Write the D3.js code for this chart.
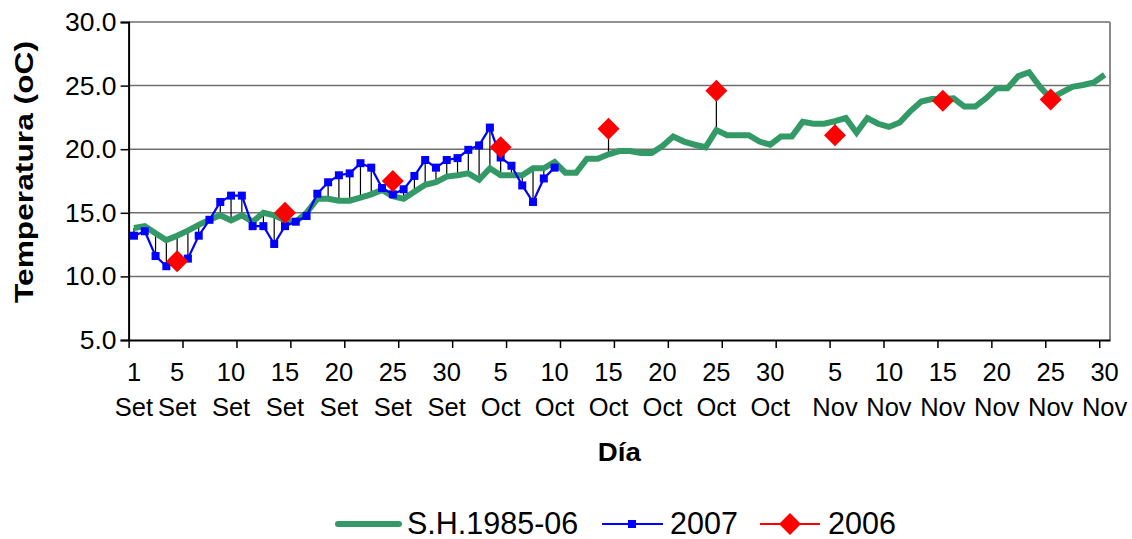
<!DOCTYPE html>
<html><head><meta charset="utf-8">
<script src="https://cdn.jsdelivr.net/npm/d3@7"></script>
<style>
body{margin:0;background:#fff;}
text{font-family:"Liberation Sans",Arial,sans-serif;fill:#000;}
</style>
</head><body>
<svg id="c" width="1132" height="539"></svg>
<script>
// ---- data ----
const monthNames = ["Set", "Oct", "Nov"];
const monthLengths = [30, 31, 30];
const labelDays = [[1, 5, 10, 15, 20, 25, 30], [5, 10, 15, 20, 25, 30], [5, 10, 15, 20, 25, 30]];
const yTicks = [5, 10, 15, 20, 25, 30];
const seriesNames = ["S.H.1985-06", "2007", "2006"];

// S.H.1985-06 : one value per day, 1 Set .. 30 Nov
const shValues = [
  13.8, 13.95, 13.4, 12.85, 13.2, 13.6, 14.05, 14.45, 14.8, 14.4,
  14.8, 14.3, 15.0, 14.8, 14.4, 14.3, 15.0, 16.1, 16.1, 15.95,
  15.95, 16.2, 16.45, 16.8, 16.3, 16.1, 16.65, 17.2, 17.4, 17.85,
  17.95, 18.1, 17.6, 18.5, 17.95, 17.95, 17.95, 18.5, 18.5, 19.0,
  18.15, 18.15, 19.25, 19.25, 19.6, 19.85, 19.85, 19.7, 19.7, 20.25,
  21.0, 20.6, 20.35, 20.15, 21.5, 21.1, 21.1, 21.1, 20.6, 20.35,
  21.0,
  21.0, 22.15, 22.0, 22.0, 22.2, 22.45, 21.3, 22.45, 22.0, 21.75,
  22.1, 23.0, 23.75, 23.95, 23.95, 24.0, 23.35, 23.35, 24.0, 24.8,
  24.8, 25.75, 26.05, 24.9, 24.0, 24.45, 24.9, 25.05, 25.25, 25.85
];
// 2007 : 1 Set .. 10 Oct
const values2007 = [
  13.2, 13.55, 11.6, 10.8, 11.1, 11.4, 13.2, 14.45, 15.85, 16.35,
  16.35, 13.95, 13.95, 12.55, 13.95, 14.3, 14.75, 16.5, 17.4, 17.95,
  18.1, 18.9, 18.55, 16.95, 16.45, 16.85, 17.9, 19.15, 18.55, 19.15,
  19.3, 19.95, 20.3, 21.7, 19.35, 18.7, 17.15, 15.85, 17.7, 18.55
];
// 2006 : every 10 days
const dates2006 = [["Set", 5], ["Set", 15], ["Set", 25], ["Oct", 5], ["Oct", 15], ["Oct", 25], ["Nov", 5], ["Nov", 15], ["Nov", 25]];
const values2006 = [11.2, 15.0, 17.5, 20.15, 21.6, 24.6, 21.1, 23.8, 23.9];

// ---- build categories ----
const cats = [];
monthNames.forEach((m, mi) => { for (let d = 1; d <= monthLengths[mi]; d++) cats.push({ m, d, i: cats.length }); });
const catIndex = (m, d) => cats.findIndex(c => c.m === m && c.d === d);

const L = 128.6, R = 1110, T = 22, B = 340;
const svg = d3.select("#c");
const x = d3.scaleBand().domain(cats.map(c => c.i)).range([L, R]).padding(0);
const bw = x.bandwidth();
const cx = i => x(i) + bw / 2;
const xb = d3.scaleLinear().domain([0, cats.length]).range([L, R]);
const y = d3.scaleLinear().domain([5, 30]).range([B, T]);

// gridlines
svg.append("g").selectAll("line").data(yTicks.filter(v => v > 5)).join("line")
  .attr("x1", L).attr("x2", R).attr("y1", d => y(d)).attr("y2", d => y(d))
  .attr("stroke", "#6e6e6e").attr("stroke-width", 1.5);
// right border
svg.append("line").attr("x1", R).attr("x2", R).attr("y1", T).attr("y2", B)
  .attr("stroke", "#8a8a8a").attr("stroke-width", 2);

// high-low lines
const hl = cats.map(c => {
  const vals = [shValues[c.i]];
  if (c.i < values2007.length) vals.push(values2007[c.i]);
  dates2006.forEach((dd, k) => { if (catIndex(dd[0], dd[1]) === c.i) vals.push(values2006[k]); });
  return { i: c.i, hi: d3.max(vals), lo: d3.min(vals) };
}).filter(d => d.hi - d.lo > 0.01);
svg.append("g").selectAll("line").data(hl).join("line")
  .attr("x1", d => cx(d.i)).attr("x2", d => cx(d.i))
  .attr("y1", d => y(d.hi)).attr("y2", d => y(d.lo))
  .attr("stroke", "#000").attr("stroke-width", 1.2);

// Y axis
const yAxis = svg.append("g").attr("transform", `translate(${L},0)`)
  .call(d3.axisLeft(y).tickValues(yTicks).tickFormat(d3.format(".1f")).tickSize(8).tickPadding(4));
yAxis.select(".domain").attr("stroke", "#000").attr("stroke-width", 2);
yAxis.selectAll(".tick line").attr("stroke", "#000").attr("stroke-width", 1.5);
yAxis.selectAll("text").attr("font-size", 26.5).attr("font-family", "Liberation Sans, Arial, sans-serif").attr("fill", "#000");

// X axis ticks at every 5 days
const xAxis = svg.append("g").attr("transform", `translate(0,${B})`)
  .call(d3.axisBottom(xb).tickValues(d3.range(0, 91, 5)).tickFormat("").tickSize(8).tickSizeOuter(0));
xAxis.select(".domain").attr("stroke", "#000").attr("stroke-width", 2);
xAxis.selectAll(".tick line").attr("stroke", "#000").attr("stroke-width", 1.5);

// X labels
const labeled = [];
monthNames.forEach((m, mi) => labelDays[mi].forEach(d => labeled.push(catIndex(m, d))));
const xl = svg.append("g").selectAll("text").data(labeled).join("text")
  .attr("text-anchor", "middle").attr("font-size", 25.5);
xl.append("tspan").attr("x", d => cx(d)).attr("y", 381).text(d => cats[d].d);
xl.append("tspan").attr("x", d => cx(d)).attr("y", 416).text(d => cats[d].m);

// axis titles
svg.append("text").attr("x", (L + R) / 2).attr("y", 461).attr("text-anchor", "middle")
  .attr("font-size", 26).attr("font-weight", "bold")
  .attr("textLength", 43).attr("lengthAdjust", "spacingAndGlyphs").text("Día");
svg.append("text").attr("transform", `translate(33,172) rotate(-90)`).attr("text-anchor", "middle")
  .attr("font-size", 26).attr("font-weight", "bold")
  .attr("textLength", 262).attr("lengthAdjust", "spacingAndGlyphs").text("Temperatura (oC)");

// S.H. line
const line = d3.line().x(d => cx(d.i)).y(d => y(d.v));
svg.append("path").datum(shValues.map((v, i) => ({ i, v })))
  .attr("d", line).attr("fill", "none").attr("stroke", "#339966").attr("stroke-width", 6)
  .attr("stroke-linejoin", "miter");

// 2007
const d07 = values2007.map((v, i) => ({ i, v }));
svg.append("path").datum(d07).attr("d", line).attr("fill", "none")
  .attr("stroke", "#0000ff").attr("stroke-width", 2.2);
svg.append("g").selectAll("rect").data(d07).join("rect")
  .attr("x", d => cx(d.i) - 4).attr("y", d => y(d.v) - 4).attr("width", 8).attr("height", 8)
  .attr("fill", "#0000ff");

// 2006 diamonds
const d06 = values2006.map((v, k) => ({ i: catIndex(dates2006[k][0], dates2006[k][1]), v }));
const diamond = "M0,-11L11,0L0,11L-11,0Z";
svg.append("g").selectAll("path").data(d06).join("path")
  .attr("transform", d => `translate(${cx(d.i)},${y(d.v)})`).attr("d", diamond).attr("fill", "#ff0000");

// legend
const lg = svg.append("g");
const ly = 524;
lg.append("line").attr("x1", 338).attr("x2", 399).attr("y1", ly).attr("y2", ly)
  .attr("stroke", "#339966").attr("stroke-width", 6).attr("stroke-linecap", "round");
lg.append("text").attr("x", 407).attr("y", ly + 10).attr("font-size", 30.5).text(seriesNames[0]);
lg.append("line").attr("x1", 602).attr("x2", 663).attr("y1", ly).attr("y2", ly)
  .attr("stroke", "#0000ff").attr("stroke-width", 2.2);
lg.append("rect").attr("x", 632 - 4).attr("y", ly - 4).attr("width", 8).attr("height", 8).attr("fill", "#0000ff");
lg.append("text").attr("x", 670).attr("y", ly + 10).attr("font-size", 30.5).text(seriesNames[1]);
lg.append("line").attr("x1", 760).attr("x2", 820).attr("y1", ly).attr("y2", ly)
  .attr("stroke", "#ff0000").attr("stroke-width", 2.2);
lg.append("path").attr("transform", `translate(790,${ly})`).attr("d", diamond).attr("fill", "#ff0000");
lg.append("text").attr("x", 828).attr("y", ly + 10).attr("font-size", 30.5).text(seriesNames[2]);
</script>
</body></html>
